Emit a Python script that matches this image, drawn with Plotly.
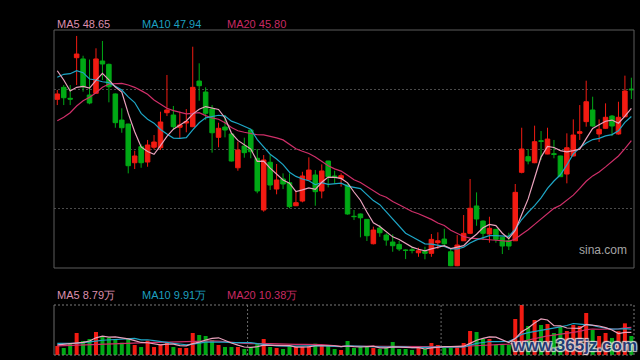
import plotly.graph_objects as go
import pandas as pd

# ---------------- data ----------------
opens = [49.38, 50.43, 49.47, 53.02, 52.91, 49.76, 49.91, 52.73, 52.44, 49.85,
         47.57, 47.22, 43.84, 45.24, 43.90, 45.19, 45.15, 48.21, 48.01, 46.94,
         47.31, 46.99, 50.98, 50.02, 48.53, 46.06, 46.96, 46.35, 43.40, 45.30,
         46.70, 44.23, 39.71, 43.88, 41.54, 42.42, 42.09, 40.08, 40.49, 42.33,
         42.77, 41.37, 43.99, 42.68, 42.48, 41.89, 39.16, 39.36, 38.89, 36.76,
         38.13, 37.52, 36.91, 36.70, 36.21, 36.23, 35.97, 36.09, 35.92, 36.85,
         37.17, 36.06, 34.84, 37.02, 37.67, 40.06, 38.74, 37.61, 38.02, 37.32,
         37.02, 37.02, 43.00, 44.37, 43.84, 45.76, 44.60, 44.63, 44.43, 42.85,
         44.43, 46.41, 47.43, 48.45, 46.35, 46.85, 47.92, 46.35, 47.86, 50.28]
highs = [50.20, 50.63, 50.63, 54.92, 53.19, 52.86, 53.84, 54.48, 52.50, 49.90,
         48.60, 47.25, 44.89, 45.45, 45.83, 46.26, 48.30, 51.51, 48.80, 48.30,
         48.53, 53.98, 52.53, 50.43, 48.88, 47.34, 48.01, 46.40, 45.68, 46.03,
         46.72, 45.04, 44.51, 44.51, 43.73, 42.91, 42.91, 41.39, 43.05, 44.31,
         43.20, 43.70, 44.00, 43.14, 42.91, 41.90, 39.71, 39.40, 38.90, 38.25,
         38.40, 37.67, 37.58, 37.02, 36.27, 36.50, 36.41, 36.50, 37.61, 37.76,
         38.07, 36.36, 37.52, 39.27, 42.42, 41.25, 38.80, 39.12, 38.05, 37.35,
         37.72, 41.98, 46.90, 45.04, 47.08, 46.61, 46.90, 45.83, 44.45, 46.41,
         47.63, 48.88, 51.01, 49.61, 47.63, 49.03, 48.01, 49.17, 51.45, 51.27]
lows = [48.88, 48.88, 48.88, 50.63, 50.05, 48.95, 49.85, 51.07, 49.12, 46.90,
        46.46, 42.91, 43.29, 43.40, 43.49, 45.01, 44.95, 47.92, 46.70, 45.97,
        46.50, 46.95, 49.26, 47.57, 44.72, 45.19, 46.06, 43.95, 43.14, 44.28,
        44.23, 41.17, 39.56, 41.46, 41.08, 41.54, 39.86, 40.05, 40.38, 42.30,
        40.08, 40.73, 41.69, 42.04, 41.75, 39.30, 38.83, 37.32, 37.00, 36.70,
        37.37, 36.59, 36.06, 36.12, 35.42, 35.92, 35.62, 35.40, 35.62, 36.30,
        36.65, 34.80, 34.80, 37.00, 37.60, 38.33, 37.08, 36.85, 36.85, 35.86,
        36.21, 37.00, 42.91, 43.70, 43.80, 44.08, 44.58, 44.23, 42.60, 42.04,
        44.40, 45.83, 46.99, 47.00, 45.65, 46.80, 46.17, 46.30, 47.81, 49.41]
closes = [49.85, 49.52, 49.40, 53.34, 50.48, 49.06, 52.91, 52.47, 50.48, 47.34,
          46.90, 43.58, 44.43, 43.84, 45.39, 45.65, 47.40, 48.45, 46.99, 47.14,
          47.44, 50.43, 50.57, 48.16, 46.46, 46.85, 46.70, 43.99, 44.95, 44.72,
          44.80, 41.37, 44.08, 41.89, 42.33, 41.98, 40.00, 40.35, 42.68, 43.20,
          41.31, 43.12, 42.62, 42.59, 42.71, 39.36, 39.13, 39.03, 37.46, 37.96,
          37.72, 37.08, 36.59, 36.30, 36.18, 36.18, 36.15, 35.92, 37.14, 37.02,
          36.76, 34.84, 36.65, 37.67, 39.86, 38.92, 37.67, 38.11, 37.14, 36.56,
          36.56, 41.25, 45.04, 43.99, 45.68, 45.71, 45.91, 44.57, 42.62, 45.15,
          46.26, 46.55, 49.17, 47.05, 46.76, 47.81, 47.05, 47.81, 50.11, 50.22]
# volume in 万 (10k shares)
volumes = [3.48, 2.71, 4.26, 8.51, 5.42, 6.19, 8.90, 7.35, 6.70, 6.06,
           4.77, 6.45, 3.87, 3.10, 5.55, 3.10, 4.13, 5.03, 3.10, 2.71,
           2.71, 8.51, 7.74, 7.35, 5.81, 3.87, 3.10, 3.10, 3.10, 2.32,
           3.10, 4.52, 6.19, 3.10, 2.71, 2.32, 3.87, 3.10, 3.10, 3.48,
           4.39, 3.87, 3.87, 2.32, 1.94, 5.42, 2.71, 3.10, 3.10, 2.71,
           2.32, 2.71, 5.03, 2.32, 2.32, 1.94, 2.71, 2.32, 4.64, 3.87,
           2.71, 2.71, 3.10, 4.64, 9.29, 8.90, 6.19, 6.19, 3.87, 3.87,
           3.87, 13.93, 19.35, 11.22, 13.55, 11.61, 12.00, 8.51, 10.84, 9.29,
           11.61, 11.22, 16.25, 9.68, 7.35, 8.51, 6.60, 9.20, 12.26, 7.35]

# moving-average values before a full window is available
ma5_head = [51.88, 51.07, 50.11, 50.43]
ma10_head = [51.31, 51.57, 51.62, 51.88, 51.71, 51.16, 51.07, 50.92, 50.84]
ma20_head = [47.51, 47.81, 48.21, 48.80, 49.26, 49.56, 49.96, 50.43, 50.72, 50.78,
             50.78, 50.63, 50.43, 50.14, 49.82, 49.32, 48.97, 48.60, 48.39]
vma5_head = [3.9, 4.1, 4.3, 4.6]
vma10_head = [4.5, 4.5, 4.5, 4.6, 4.8, 5.0, 5.4, 5.7, 5.9]
vma20_head = [3.5, 3.6, 3.6, 3.7, 3.9, 4.0, 4.2, 4.3, 4.4, 4.5,
              4.6, 4.7, 4.7, 4.8, 4.8, 4.9, 4.9, 5.0, 5.0]

legend_price = ["MA5 48.65", "MA10 47.94", "MA20 45.80"]
legend_vol = ["MA5 8.79万", "MA10 9.91万", "MA20 10.38万"]
period_breaks = [29.5, 59.5]

# ---------------- derived ----------------
n = len(closes)
xs = list(range(n))


def moving(values, window, head):
    s = pd.Series(values).rolling(window).mean()
    s.iloc[:len(head)] = head
    return s.round(3).tolist()


ma5 = moving(closes, 5, ma5_head)
ma10 = moving(closes, 10, ma10_head)
ma20 = moving(closes, 20, ma20_head)
vma5 = moving(volumes, 5, vma5_head)
vma10 = moving(volumes, 10, vma10_head)
vma20 = moving(volumes, 20, vma20_head)

RED = "#f21b12"
GREEN = "#00a915"
C5 = "#eaa2bd"
C10 = "#1ea6c6"
C20 = "#cf2f69"
C5T = "#dd8fae"
C10T = "#1d9fbf"
C20T = "#c92a63"

vol_colors = [RED if c > o else GREEN for o, c in zip(opens, closes)]

W, H = 640, 360
X0, X1 = 54, 634
MAIN_T, MAIN_B = 30, 268
VOL_T, VOL_B = 305, 355
p_lo, p_hi = 34.64, 55.44
v_hi = 19.35


def px(x):
    return x / W


def py(y):
    return 1 - y / H


fig = go.Figure()
fig.add_trace(go.Candlestick(
    x=xs, open=opens, high=highs, low=lows, close=closes,
    increasing=dict(line=dict(color=RED, width=1), fillcolor=RED),
    decreasing=dict(line=dict(color=GREEN, width=1), fillcolor=GREEN),
    whiskerwidth=0, hoverinfo="skip", xaxis="x", yaxis="y"))
for vals, col in [(ma20, C20), (ma10, C10), (ma5, C5)]:
    fig.add_trace(go.Scatter(x=xs, y=vals, mode="lines",
                             line=dict(color=col, width=1.2),
                             hoverinfo="skip", xaxis="x", yaxis="y"))

fig.add_trace(go.Bar(x=xs, y=volumes, marker=dict(color=vol_colors, line=dict(width=0)),
                     width=0.62, hoverinfo="skip", xaxis="x", yaxis="y2"))
for vals, col in [(vma20, C20), (vma10, C10), (vma5, C5)]:
    fig.add_trace(go.Scatter(x=xs, y=vals, mode="lines",
                             line=dict(color=col, width=1.2),
                             hoverinfo="skip", xaxis="x", yaxis="y2"))

grid_vals = [p_lo + (p_hi - p_lo) * k / 4 for k in (1, 2, 3)]

shapes = [
    dict(type="rect", xref="paper", yref="paper", x0=px(X0), x1=px(X1),
         y0=py(MAIN_B), y1=py(MAIN_T), line=dict(color="#5c5c5c", width=1),
         fillcolor="rgba(0,0,0,0)", layer="above"),
    dict(type="line", xref="paper", yref="paper", x0=px(X0), x1=px(X0),
         y0=py(VOL_B), y1=py(VOL_T), line=dict(color="#6a6a6a", width=1)),
    dict(type="line", xref="paper", yref="paper", x0=px(X0), x1=px(X1),
         y0=py(VOL_T), y1=py(VOL_T), line=dict(color="#7a7a7a", width=1, dash="2px,2px")),
    dict(type="line", xref="paper", yref="paper", x0=px(X0), x1=px(X1),
         y0=py(VOL_B), y1=py(VOL_B), line=dict(color="#7a7a7a", width=1, dash="2px,2px")),
    dict(type="line", xref="paper", yref="paper", x0=px(X1), x1=px(X1),
         y0=py(VOL_B), y1=py(VOL_T), line=dict(color="#7a7a7a", width=1, dash="2px,2px")),
]
for b in period_breaks:
    shapes.append(dict(type="line", xref="x", yref="paper", x0=b, x1=b,
                       y0=py(VOL_B), y1=py(VOL_T),
                       line=dict(color="#6a6a6a", width=1, dash="2px,2px"), layer="below"))

font_family = "Arial, Liberation Sans, sans-serif"
annotations = []
for txt, col, xp in zip(legend_price, [C5T, C10T, C20T], [55, 140, 225]):
    annotations.append(dict(text=txt, x=px(xp), y=py(24), xref="paper", yref="paper",
                            xanchor="left", yanchor="middle", showarrow=False,
                            font=dict(family=font_family, size=11, color=col)))
for txt, col, xp in zip(legend_vol, [C5T, C10T, C20T], [55, 140, 225]):
    annotations.append(dict(text=txt, x=px(xp), y=py(295), xref="paper", yref="paper",
                            xanchor="left", yanchor="middle", showarrow=False,
                            font=dict(family=font_family, size=11, color=col)))
annotations.append(dict(text="sina.com", x=px(602.5), y=py(249.5), xref="paper", yref="paper",
                        xanchor="center", yanchor="middle", showarrow=False,
                        font=dict(family=font_family, size=12, color="#a4a4a4")))
annotations.append(dict(text="www.365jz.com", x=px(574), y=py(345), xref="paper", yref="paper",
                        xanchor="center", yanchor="middle", showarrow=False, opacity=0.9,
                        font=dict(family="Arial, Liberation Sans, sans-serif", size=17,
                                  color="#1e3f80", weight="bold",
                                  shadow="1px 1px 1px #e8e8e8, -1px -1px 1px #e8e8e8, 1px -1px 1px #e8e8e8, -1px 1px 1px #e8e8e8")))

fig.update_layout(
    width=W, height=H, margin=dict(l=0, r=0, t=0, b=0),
    paper_bgcolor="black", plot_bgcolor="black", showlegend=False,
    boxgap=0.3, boxgroupgap=0,
    xaxis=dict(domain=[px(X0), px(X1)], range=[-0.51, 89.41], showgrid=False,
               zeroline=False, showticklabels=False, showline=False, ticks="",
               rangeslider=dict(visible=False), fixedrange=True, anchor="y2"),
    yaxis=dict(domain=[py(MAIN_B), py(MAIN_T)], range=[p_lo, p_hi], tickvals=grid_vals,
               showticklabels=False, ticks="", showgrid=True, gridcolor="#4a4a4a",
               griddash="2px,2px", gridwidth=1, zeroline=False, showline=False, fixedrange=True),
    yaxis2=dict(domain=[py(VOL_B), py(VOL_T)], range=[0, v_hi], showgrid=False,
                showticklabels=False, ticks="", zeroline=False, showline=False, fixedrange=True),
    shapes=shapes, annotations=annotations,
)

fig.write_html("out.html", config={"displayModeBar": False},
               post_script="document.body.style.margin='0';document.body.style.background='black';document.body.style.overflow='hidden';")
